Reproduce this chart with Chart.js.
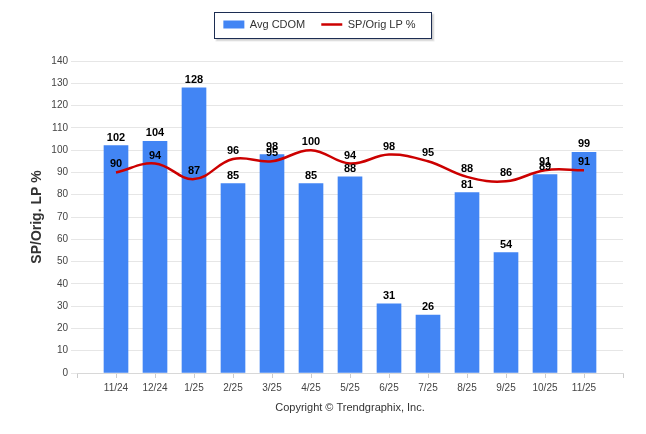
<!DOCTYPE html>
<html>
<head>
<meta charset="utf-8">
<script src="https://cdn.jsdelivr.net/npm/chart.js@4"></script>
<style>
  html,body{margin:0;padding:0;background:#fff;}
  #wrap{width:646px;height:434px;position:relative;}
</style>
</head>
<body>
<div id="wrap"><canvas id="c" width="646" height="434"></canvas></div>
<script>
const categories = ['11/24','12/24','1/25','2/25','3/25','4/25','5/25','6/25','7/25','8/25','9/25','10/25','11/25'];
const avgCdom = [102,104,128,85,98,85,88,31,26,81,54,89,99];
const spOrigLp = [90,94,87,96,95,100,94,98,95,88,86,91,91];
const yTicks = [0,10,20,30,40,50,60,70,80,90,100,110,120,130,140];

const BAR_COLOR = '#4285f4';
const LINE_COLOR = '#cc0000';
const FONT = "'Liberation Sans', Arial, sans-serif";

const valueLabels = {
  id: 'valueLabels',
  afterDatasetsDraw(chart) {
    const ctx = chart.ctx;
    ctx.save();
    ctx.font = 'bold 11px ' + FONT;
    ctx.fillStyle = '#000';
    ctx.textAlign = 'center';
    ctx.textBaseline = 'middle';
    [0, 1].forEach(di => {
      const meta = chart.getDatasetMeta(di);
      const ds = chart.data.datasets[di];
      meta.data.forEach((el, i) => {
        ctx.fillText(String(ds.data[i].y), el.x, el.y - 8);
      });
    });
    ctx.restore();
  }
};

const legendBorder = {
  id: 'legendBorder',
  beforeDraw(chart) {
    const lg = chart.legend;
    if (!lg || !lg.legendHitBoxes || !lg.legendHitBoxes.length) return;
    const hb = lg.legendHitBoxes;
    const l = Math.round(hb[0].left - 9) + 0.5;
    const r = Math.round(hb[hb.length - 1].left + hb[hb.length - 1].width + 15) + 0.5;
    const t = Math.round(hb[0].top - 7) + 0.5;
    const b = Math.round(hb[0].top + hb[0].height + 8) + 0.5;
    const ctx = chart.ctx;
    ctx.save();
    ctx.fillStyle = 'rgba(0,0,0,0.12)';
    ctx.fillRect(l + 2, t + 2, r - l, b - t);
    ctx.fillStyle = 'rgba(0,0,0,0.08)';
    ctx.fillRect(l + 1, t + 1, r - l + 2, b - t + 2);
    ctx.fillStyle = '#fff';
    ctx.fillRect(l, t, r - l, b - t);
    ctx.strokeStyle = '#1c2d52';
    ctx.lineWidth = 1;
    ctx.strokeRect(l, t, r - l, b - t);
    ctx.restore();
  }
};

new Chart(document.getElementById('c'), {
  type: 'bar',
  data: {
    datasets: [
      {
        type: 'bar',
        label: 'Avg CDOM',
        data: avgCdom.map((v, i) => ({x: i, y: v})),
        backgroundColor: BAR_COLOR,
        barThickness: 24,
        order: 1
      },
      {
        type: 'line',
        label: 'SP/Orig LP %',
        data: spOrigLp.map((v, i) => ({x: i, y: v})),
        borderColor: LINE_COLOR,
        backgroundColor: LINE_COLOR,
        borderWidth: 2.5,
        pointRadius: 0,
        tension: 0.4,
        fill: false,
        order: 0
      }
    ]
  },
  options: {
    responsive: false,
    animation: false,
    devicePixelRatio: 1,
    layout: { padding: { top: 3, right: 23, bottom: 0, left: 16 } },
    plugins: {
      tooltip: { enabled: false },
      subtitle: {
        display: true,
        text: ' ',
        position: 'top',
        weight: 500,
        font: { family: FONT, size: 10 },
        padding: { top: 0, bottom: 9 }
      },
      legend: {
        position: 'top',
        labels: {
          font: { family: FONT, size: 11 },
          color: '#333',
          padding: 16,
          usePointStyle: true,
          pointStyleWidth: 21,
          boxHeight: 8,
          generateLabels(chart) {
            return chart.data.datasets.map((ds, i) => ds.type === 'line' ? {
              text: ds.label, datasetIndex: i, pointStyle: 'line',
              strokeStyle: LINE_COLOR, fillStyle: LINE_COLOR, lineWidth: 2.5, fontColor: '#333'
            } : {
              text: ds.label, datasetIndex: i, pointStyle: 'rect',
              fillStyle: BAR_COLOR, strokeStyle: BAR_COLOR, lineWidth: 0, fontColor: '#333'
            });
          }
        }
      }
    },
    scales: {
      x: {
        type: 'linear',
        min: -1,
        max: 13,
        offset: false,
        afterBuildTicks(scale) {
          const t = [-1];
          categories.forEach((c, i) => t.push(i));
          t.push(13);
          scale.ticks = t.map(v => ({value: v}));
        },
        afterFit(scale) { scale.height = 61; },
        ticks: {
          autoSkip: false,
          maxRotation: 0,
          padding: 4,
          color: '#444',
          font: { family: FONT, size: 10 },
          callback: (v) => (v >= 0 && v < categories.length) ? categories[v] : ''
        },
        grid: { offset: false, drawOnChartArea: false, drawTicks: true, tickLength: 5, color: '#cccccc' },
        border: { display: true, color: '#d8d8d8' },
        title: {
          display: true,
          text: 'Copyright © Trendgraphix, Inc.',
          color: '#333',
          font: { family: FONT, size: 11 },
          padding: { top: 0, bottom: 19 }
        }
      },
      y: {
        type: 'linear',
        min: 0,
        max: 140,
        afterBuildTicks(scale) { scale.ticks = yTicks.map(v => ({value: v})); },
        afterFit(scale) { scale.width = 61; },
        ticks: {
          padding: 3,
          color: '#444',
          font: { family: FONT, size: 10 }
        },
        grid: { color: '#e6e6e6', tickLength: 6 },
        border: { display: false },
        title: {
          display: true,
          text: 'SP/Orig. LP %',
          color: '#333',
          font: { family: FONT, size: 14, weight: 'bold' },
          padding: { top: 13, bottom: 0 }
        }
      }
    }
  },
  plugins: [legendBorder, valueLabels]
});
</script>
</body>
</html>
